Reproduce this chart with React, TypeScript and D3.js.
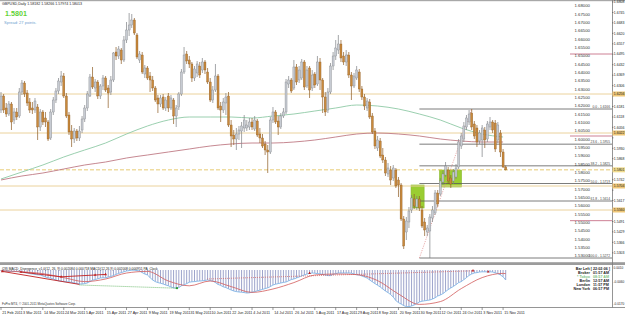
import React from "react";
import * as d3 from "d3";

const tickLabels = ["21 Feb 2011","3 Mar 2011","14 Mar 2011","24 Mar 2011","5 Apr 2011","15 Apr 2011","27 Apr 2011","9 May 2011","19 May 2011","31 May 2011","10 Jun 2011","22 Jun 2011","4 Jul 2011","14 Jul 2011","26 Jul 2011","5 Aug 2011","17 Aug 2011","29 Aug 2011","8 Sep 2011","20 Sep 2011","30 Sep 2011","12 Oct 2011","24 Oct 2011","3 Nov 2011","15 Nov 2011"];

// [open, high, low, close]
const ohlc: [number, number, number, number][] = [
[1.6160,1.6268,1.6142,1.6244],[1.6244,1.6256,1.6142,1.6160],[1.6172,1.6202,1.6118,1.6136],[1.6136,1.6214,1.6124,1.6196],[1.6196,1.6208,1.6040,1.6088],
[1.6100,1.6172,1.6076,1.6148],[1.6148,1.6172,1.6100,1.6118],[1.6124,1.6292,1.6112,1.6268],[1.6268,1.6340,1.6250,1.6322],[1.6322,1.6334,1.6238,1.6256],
[1.6262,1.6280,1.6184,1.6202],[1.6208,1.6232,1.6142,1.6160],[1.6172,1.6208,1.6136,1.6160],[1.6160,1.6232,1.6142,1.6214],[1.6178,1.6196,1.5980,1.6058],
[1.6058,1.6166,1.6034,1.6148],[1.6148,1.6160,1.6070,1.6088],[1.6112,1.6148,1.6058,1.6088],[1.6088,1.6100,1.5974,1.5986],[1.5992,1.6166,1.5980,1.6148],
[1.6148,1.6238,1.6130,1.6220],[1.6220,1.6292,1.6202,1.6274],[1.6274,1.6352,1.6256,1.6334],[1.6328,1.6394,1.6304,1.6364],[1.6364,1.6382,1.6232,1.6244],
[1.6244,1.6262,1.6112,1.6124],[1.6130,1.6148,1.6010,1.6028],[1.6034,1.6070,1.5938,1.5986],[1.5986,1.6052,1.5962,1.6034],[1.6034,1.6046,1.5974,1.5992],
[1.5992,1.6064,1.5974,1.6034],[1.6040,1.6124,1.6022,1.6106],[1.6106,1.6190,1.6088,1.6172],[1.6172,1.6274,1.6154,1.6256],[1.6244,1.6376,1.6238,1.6358],
[1.6358,1.6418,1.6286,1.6298],[1.6292,1.6346,1.6268,1.6328],[1.6328,1.6340,1.6226,1.6244],[1.6244,1.6316,1.6226,1.6304],[1.6304,1.6370,1.6280,1.6352],
[1.6352,1.6364,1.6268,1.6280],[1.6292,1.6310,1.6172,1.6262],[1.6268,1.6364,1.6250,1.6340],[1.6340,1.6508,1.6328,1.6502],[1.6508,1.6538,1.6460,1.6484],
[1.6484,1.6544,1.6466,1.6526],[1.6520,1.6532,1.6436,1.6460],[1.6460,1.6604,1.6448,1.6580],[1.6580,1.6688,1.6562,1.6640],[1.6640,1.6742,1.6604,1.6670],
[1.6670,1.6736,1.6652,1.6700],[1.6700,1.6712,1.6610,1.6622],[1.6610,1.6622,1.6466,1.6478],[1.6460,1.6514,1.6442,1.6496],[1.6490,1.6508,1.6376,1.6388],
[1.6376,1.6430,1.6352,1.6412],[1.6412,1.6424,1.6340,1.6352],[1.6364,1.6388,1.6268,1.6340],[1.6340,1.6364,1.6274,1.6292],[1.6292,1.6304,1.6208,1.6220],
[1.6232,1.6250,1.6142,1.6196],[1.6196,1.6250,1.6178,1.6232],[1.6238,1.6256,1.6160,1.6172],[1.6172,1.6238,1.6154,1.6220],[1.6244,1.6262,1.6148,1.6172],
[1.6172,1.6250,1.6160,1.6232],[1.6220,1.6232,1.6076,1.6124],[1.6124,1.6190,1.6058,1.6172],[1.6178,1.6268,1.6160,1.6256],[1.6256,1.6406,1.6244,1.6388],
[1.6388,1.6538,1.6376,1.6490],[1.6496,1.6514,1.6436,1.6454],[1.6460,1.6484,1.6412,1.6436],[1.6436,1.6448,1.6328,1.6352],[1.6352,1.6424,1.6334,1.6406],
[1.6382,1.6454,1.6358,1.6436],[1.6424,1.6448,1.6352,1.6370],[1.6400,1.6472,1.6382,1.6448],[1.6448,1.6460,1.6376,1.6400],[1.6388,1.6412,1.6316,1.6328],
[1.6328,1.6352,1.6208,1.6220],[1.6220,1.6304,1.6202,1.6280],[1.6280,1.6436,1.6268,1.6364],[1.6364,1.6376,1.6160,1.6172],[1.6184,1.6208,1.6088,1.6160],
[1.6160,1.6232,1.6142,1.6208],[1.6202,1.6262,1.6130,1.6238],[1.6244,1.6268,1.6058,1.6070],[1.6070,1.6100,1.5938,1.6004],[1.6010,1.6040,1.5950,1.5986],
[1.5986,1.6052,1.5920,1.6016],[1.6016,1.6064,1.5980,1.6040],[1.6034,1.6088,1.5932,1.6064],[1.6052,1.6130,1.6028,1.6100],[1.6052,1.6100,1.6034,1.6070],
[1.6058,1.6112,1.6040,1.6088],[1.6088,1.6112,1.6040,1.6058],[1.6046,1.6124,1.6034,1.6100],[1.6094,1.6106,1.5998,1.6010],[1.6016,1.6052,1.5962,1.5992],
[1.5992,1.6016,1.5932,1.5944],[1.5956,1.5974,1.5890,1.5920],[1.5920,1.5950,1.5782,1.5908],[1.5908,1.6118,1.5896,1.6100],[1.6100,1.6178,1.6082,1.6148],
[1.6148,1.6160,1.6076,1.6088],[1.6094,1.6124,1.6010,1.6058],[1.6058,1.6142,1.6046,1.6124],[1.6124,1.6172,1.6112,1.6148],[1.6148,1.6346,1.6136,1.6328],
[1.6316,1.6364,1.6292,1.6340],[1.6340,1.6352,1.6262,1.6274],[1.6292,1.6460,1.6280,1.6418],[1.6418,1.6436,1.6310,1.6328],[1.6340,1.6424,1.6322,1.6400],
[1.6352,1.6466,1.6340,1.6448],[1.6448,1.6460,1.6280,1.6298],[1.6304,1.6424,1.6292,1.6400],[1.6412,1.6424,1.6232,1.6280],[1.6292,1.6400,1.6274,1.6370],
[1.6376,1.6388,1.6292,1.6310],[1.6316,1.6484,1.6304,1.6448],[1.6448,1.6472,1.6280,1.6340],[1.6340,1.6352,1.6142,1.6238],[1.6238,1.6268,1.6124,1.6148],
[1.6160,1.6292,1.6142,1.6268],[1.6268,1.6442,1.6256,1.6424],[1.6424,1.6508,1.6400,1.6484],[1.6484,1.6580,1.6460,1.6532],[1.6520,1.6610,1.6496,1.6556],
[1.6556,1.6580,1.6448,1.6472],[1.6484,1.6508,1.6430,1.6448],[1.6448,1.6520,1.6424,1.6490],[1.6490,1.6508,1.6352,1.6370],[1.6370,1.6388,1.6220,1.6304],
[1.6304,1.6382,1.6292,1.6364],[1.6352,1.6424,1.6340,1.6400],[1.6388,1.6406,1.6268,1.6286],[1.6286,1.6304,1.6220,1.6238],[1.6238,1.6256,1.6160,1.6184],
[1.6172,1.6232,1.6154,1.6214],[1.6208,1.6226,1.6106,1.6118],[1.6124,1.6142,1.6016,1.6028],[1.6034,1.6052,1.5926,1.5944],[1.5932,1.6004,1.5914,1.5980],
[1.5974,1.5992,1.5872,1.5884],[1.5890,1.5932,1.5842,1.5860],[1.5860,1.5878,1.5764,1.5782],[1.5776,1.5842,1.5758,1.5812],[1.5800,1.5824,1.5710,1.5740],
[1.5752,1.5830,1.5734,1.5812],[1.5800,1.5812,1.5692,1.5704],[1.5740,1.5758,1.5638,1.5710],[1.5710,1.5722,1.5494,1.5506],[1.5506,1.5524,1.5326,1.5344],
[1.5428,1.5518,1.5380,1.5494],[1.5488,1.5578,1.5452,1.5554],[1.5560,1.5650,1.5542,1.5632],[1.5626,1.5656,1.5566,1.5584],[1.5578,1.5644,1.5560,1.5626],
[1.5626,1.5644,1.5554,1.5572],[1.5560,1.5584,1.5452,1.5464],[1.5488,1.5512,1.5404,1.5440],[1.5428,1.5470,1.5404,1.5452],[1.5434,1.5536,1.5272,1.5518],
[1.5512,1.5584,1.5488,1.5560],[1.5542,1.5680,1.5530,1.5662],[1.5662,1.5680,1.5578,1.5596],[1.5656,1.5752,1.5644,1.5734],[1.5728,1.5794,1.5710,1.5776],
[1.5770,1.5848,1.5758,1.5824],[1.5800,1.5818,1.5716,1.5734],[1.5752,1.5770,1.5692,1.5716],[1.5734,1.5806,1.5716,1.5788],[1.5758,1.5836,1.5746,1.5812],
[1.5818,1.5986,1.5806,1.5968],[1.5944,1.6022,1.5926,1.6004],[1.5986,1.6088,1.5968,1.6064],[1.6058,1.6130,1.6040,1.6112],[1.6088,1.6160,1.6070,1.6136],
[1.6142,1.6166,1.6040,1.6058],[1.6076,1.6094,1.5986,1.6004],[1.6052,1.6070,1.5938,1.5968],[1.5974,1.6040,1.5956,1.6022],[1.5980,1.6070,1.5878,1.6052],
[1.6040,1.6058,1.5932,1.5980],[1.5986,1.6094,1.5968,1.6076],[1.6058,1.6118,1.6040,1.6088],[1.6088,1.6100,1.6022,1.6040],[1.6082,1.6100,1.5908,1.5926],
[1.5980,1.6088,1.5962,1.6070],[1.6022,1.6040,1.5878,1.5908],[1.5908,1.5926,1.5812,1.5818],[1.5818,1.5827,1.5797,1.5801]
];

// moving averages, read every 8 bars
const maBars = [0,8,16,24,32,40,48,56,64,72,80,88,96,104,112,120,128,136,144,152,160,168,176,184,192];
const maGreen = [1.5746,1.5788,1.5830,1.5878,1.5920,1.5962,1.6016,1.6064,1.6100,1.6118,1.6118,1.6118,1.6112,1.6124,1.6136,1.6154,1.6172,1.6190,1.6184,1.6166,1.6136,1.6100,1.6052,1.6016,1.5998];
const maRed = [1.5740,1.5764,1.5782,1.5806,1.5830,1.5848,1.5872,1.5890,1.5908,1.5926,1.5944,1.5956,1.5962,1.5962,1.5968,1.5980,1.5998,1.6016,1.6022,1.6016,1.6004,1.5986,1.5974,1.5968,1.5968];

// horizontal levels
const supportLines = [1.6256, 1.6022, 1.5704, 1.5560];
const bidPrice = 1.5801;
const shortRedLines = [1.6496, 1.6004, 1.5496];
const fibLevels = ["0.0", "23.6", "38.2", "50.0", "61.8", "100.0"];
const fibPrices = [1.6166, 1.5955, 1.5825, 1.5719, 1.5614, 1.5272];
const fibAnchorBars = [160, 180];
const boxBars = [[156.8, 161.8], [167.7, 176.1]];
const boxPrices = [[1.5710, 1.5572], [1.5800, 1.5698]];

const innerLabels = ["1.68000","1.67500","1.67000","1.66500","1.66000","1.65500","1.65000","1.64500","1.64000","1.63500","1.63000","1.62500","1.62000","1.61500","1.61000","1.60500","1.60000","1.59500","1.59000","1.58500","1.58000","1.57500","1.57000","1.56500","1.56000","1.55500","1.55000","1.54500","1.54000","1.53500","1.53000"];
const axisLabels = ["1.6808","1.6745","1.6683","1.6620","1.6557","1.6495","1.6432","1.6369","1.6306","1.6244","1.6181","1.6118","1.6056","1.5993","1.5930","1.5868","1.5805","1.5742","1.5679","1.5617","1.5554","1.5491","1.5429","1.5366","1.5303"];

// MACD histogram (x1e-4), one per bar
const macdHist = [
-5,-5,-6,-7,-7,-8,-8,-9,-10,-13,
-15,-18,-20,-22,-24,-25,-30,-35,-39,-41,
-45,-50,-54,-56,-58,-59,-60,-62,-65,-68,
-70,-70,-68,-65,-58,-51,-48,-44,-40,-39,
-39,-35,-32,-28,-22,-17,-13,-9,-5,-3,
-1,-1,-3,-5,-13,-20,-25,-38,-50,-58,
-63,-66,-70,-75,-79,-85,-89,-91,-88,-79,
-74,-68,-61,-59,-58,-56,-55,-54,-52,-50,
-53,-55,-63,-72,-77,-84,-88,-94,-100,-105,
-108,-110,-111,-113,-115,-114,-111,-108,-104,-101,
-97,-93,-89,-83,-75,-71,-68,-65,-62,-60,
-54,-48,-45,-40,-35,-29,-25,-20,-17,-15,
-16,-18,-19,-22,-25,-28,-28,-22,-18,-15,
-15,-15,-15,-15,-16,-20,-24,-25,-30,-35,
-40,-50,-59,-68,-76,-85,-95,-105,-113,-123,
-135,-153,-163,-170,-178,-183,-183,-180,-175,-168,
-160,-156,-154,-152,-150,-145,-139,-130,-125,-118,
-108,-98,-90,-82,-73,-63,-58,-48,-38,-27,
-20,-15,-13,-10,-9,-9,-9,-9,-10,-14,
-18,-25,-34,-50];
const signalBars = [0,8,16,24,32,40,48,56,64,72,80,88,96,104,112,120,128,136,144,152,160,168,176,184,192,193];
const signalVals = [-4,-9,-18,-38,-58,-45,-15,-7,-55,-79,-55,-83,-112,-95,-63,-25,-20,-23,-53,-120,-172,-158,-93,-38,-17,-18];
// divergence marks: [bar, value]
const divSolid = [[[0.5,-7],[30,-72]],[[7.6,-10],[23,-34]],[[23,-34],[36,-25],[40,-22]]];
const divMarks = [[0.5,-7],[7.6,-10],[23,-34],[36,-25],[40,-22]];
const divGreen = [[30,-75],[67.3,-91]];
const divRedDotted = [[78.8,-45],[180.5,-4]];
const divRedMarks = [[118,-16],[180.5,-3],[186.3,-9]];
const indLabels = ["0.0010", "-0.0060", "-0.0170"];
const indLabelVals = [10, -60, -170];

const clock = [["Broker", "01:57 AM"], ["* Tokyo", "08:57 AM"], ["Berlin", "12:57 AM"], ["London", "11:57 PM"], ["New York", "06:57 PM"]];

export default function App() {
  const x = d3.scaleLinear().domain([0, 193]).range([1, 505.7]);
  const y = d3.scaleLinear().domain([1.5248, 1.682]).range([262, 0]);
  const yi = d3.scaleLinear().domain([-185, 20]).range([307, 266]);
  const maLine = d3.line<number>().x((_, i) => x(maBars[i])).y((d) => y(d)).curve(d3.curveMonotoneX);
  const sigLine = d3.line<number>().x((_, i) => x(signalBars[i])).y((d) => yi(d)).curve(d3.curveMonotoneX);
  const histLine = d3.line<number>().x((_, i) => x(i)).y((d) => yi(d));
  const ptLine = d3.line<number[]>().x((d) => x(d[0])).y((d) => yi(d[1]));
  const font = "'Liberation Sans', Arial, sans-serif";
  const plotR = 612;
  const boxed = supportLines.concat([bidPrice]);

  return (
    <svg width={625} height={315} style={{ position: "fixed", left: 0, top: 0, background: "#fff" }} fontFamily={font}>
      <defs>
        <clipPath id="mainClip"><rect x={0} y={1.5} width={plotR} height={260.5} /></clipPath>
        <clipPath id="indClip"><rect x={0} y={265} width={plotR} height={42} /></clipPath>
      </defs>
      <rect x={0} y={0} width={625} height={315} fill="#fff" />
      <g clipPath="url(#mainClip)">
        {boxBars.map((b, k) => (
          <rect key={"box" + k} x={x(b[0])} y={y(boxPrices[k][0])} width={x(b[1]) - x(b[0])} height={y(boxPrices[k][1]) - y(boxPrices[k][0])} fill="#9acd32" stroke="#86b82a" strokeWidth={0.6} />
        ))}
        {supportLines.map((p, k) => (
          <line key={"s" + k} x1={0} x2={plotR} y1={y(p)} y2={y(p)} stroke="#ebd29c" strokeWidth={1} />
        ))}
        <line x1={0} x2={plotR} y1={y(bidPrice)} y2={y(bidPrice)} stroke="#e3c463" strokeWidth={0.9} strokeDasharray="4,2" />
        {fibPrices.map((p, k) => (
          <line key={"f" + k} x1={x(fibAnchorBars[0])} x2={plotR} y1={y(p)} y2={y(p)} stroke="#5a5a5a" strokeWidth={0.8} />
        ))}
        <line x1={x(fibAnchorBars[0])} y1={y(fibPrices[5])} x2={x(fibAnchorBars[1])} y2={y(fibPrices[0])} stroke="#e08a8a" strokeWidth={0.7} strokeDasharray="1.2,1.2" />
        {shortRedLines.map((p, k) => (
          <line key={"r" + k} x1={570} x2={plotR} y1={y(p)} y2={y(p)} stroke="#c0607a" strokeWidth={0.8} />
        ))}
        <path d={maLine(maGreen) || ""} fill="none" stroke="#8fcaa6" strokeWidth={0.9} />
        <path d={maLine(maRed) || ""} fill="none" stroke="#c07a84" strokeWidth={0.9} />
        {ohlc.map(([o, h, l, c], i) => {
          const cx = x(i);
          const up = c >= o;
          const top = y(Math.max(o, c));
          const bot = y(Math.min(o, c));
          const edge = up ? "#7d7f84" : "#8c5a22";
          return (
            <g key={i}>
              <line x1={cx} x2={cx} y1={y(h)} y2={y(l)} stroke={edge} strokeWidth={0.7} />
              <rect x={cx - 1} y={top} width={2} height={Math.max(0.7, bot - top)} fill={up ? "#c7cbd2" : "#c8893c"} stroke={edge} strokeWidth={0.35} />
            </g>
          );
        })}
        {innerLabels.map((t, k) => (
          <text key={"il" + k} x={590} y={y(parseFloat(t)) + 2.7} fontSize={4.3} textAnchor="end" dominantBaseline="middle" fill="#333">{t}</text>
        ))}
        {fibPrices.map((p, k) => (
          <text key={"ft" + k} x={610} y={y(p) - 0.8} fontSize={3.3} textAnchor="end" fill="#444">{fibLevels[k] + " - " + p.toFixed(4)}</text>
        ))}
        <text x={2} y={5} fontSize={3.6} fill="#222">GBPUSD,Daily  1.58182 1.58266 1.57974 1.58013</text>
        <text x={5} y={16} fontSize={7.2} fontWeight="bold" fill="#5fd236">1.5801</text>
        <text x={4} y={24} fontSize={4} fill="#6f9fd0">Spread: 27 points.</text>
      </g>

      {/* window separators and frames */}
      <rect x={0} y={0} width={625} height={1.2} fill="#a8a8a8" />
      <rect x={0} y={262.2} width={625} height={2.8} fill="#9c9c9c" />
      <line x1={plotR + 0.5} x2={plotR + 0.5} y1={0} y2={307.5} stroke="#7a7a7a" strokeWidth={0.8} />
      <line x1={0} x2={625} y1={307.5} y2={307.5} stroke="#7a7a7a" strokeWidth={0.8} />

      {/* right price axis */}
      {axisLabels.map((t, k) => {
        const yy = y(parseFloat(t));
        const hidden = boxed.some((p) => Math.abs(y(p) - yy) < 5.5);
        return (
          <g key={"al" + k}>
            <line x1={plotR} x2={plotR + 1.5} y1={yy} y2={yy} stroke="#555" strokeWidth={0.6} />
            {!hidden && <text x={plotR + 1.8} y={yy + 1.3} fontSize={3.5} fill="#222">{t}</text>}
          </g>
        );
      })}
      {boxed.map((p, k) => (
        <g key={"pl" + k}>
          <rect x={plotR + 0.5} y={y(p) - 2.5} width={12.5} height={5} fill={k === 4 ? "#f1dc8e" : "#efc777"} />
          <text x={plotR + 1.8} y={y(p) + 1.3} fontSize={3.5} fill="#222">{p.toFixed(4)}</text>
        </g>
      ))}

      {/* indicator window */}
      <g clipPath="url(#indClip)">
        {macdHist.map((v, i) => (
          <line key={"h" + i} x1={x(i)} x2={x(i)} y1={yi(0)} y2={yi(v)} stroke="#5b67a8" strokeWidth={0.6} />
        ))}
        <path d={histLine(macdHist) || ""} fill="none" stroke="#7fb4e6" strokeWidth={0.9} />
        <path d={sigLine(signalVals) || ""} fill="none" stroke="#d25a5a" strokeWidth={0.8} />
        {divSolid.map((seg, k) => (
          <path key={"ds" + k} d={ptLine(seg) || ""} fill="none" stroke="#c22020" strokeWidth={0.9} />
        ))}
        <path d={ptLine(divGreen) || ""} fill="none" stroke="#3aa03a" strokeWidth={0.7} strokeDasharray="1,1" />
        <path d={ptLine(divRedDotted) || ""} fill="none" stroke="#d26060" strokeWidth={0.7} strokeDasharray="1,1" />
        {divMarks.concat(divRedMarks).map((d, k) => (
          <path key={"dm" + k} d={`M${x(d[0])},${yi(d[1]) - 1.6}L${x(d[0]) + 1.4},${yi(d[1]) + 0.8}L${x(d[0]) - 1.4},${yi(d[1]) + 0.8}Z`} fill="#c22020" />
        ))}
        <circle cx={x(divGreen[1][0])} cy={yi(divGreen[1][1])} r={1.1} fill="#2e9a2e" />
        <text x={2} y={269.8} fontSize={3.3} fill="#222">(28) MACD_Divergence_v1.0(12, 26, 9) 0.002084 0.000718  MACD(12,26,9) 0.002008 0.000951  PA_Clock</text>
        <text x={2} y={304.5} fontSize={3.1} fill="#333">FxPro MT4, © 2001-2011 MetaQuotes Software Corp.</text>
      </g>
      {indLabels.map((t, k) => (
        <text key={"ind" + k} x={plotR + 1.5} y={yi(indLabelVals[k]) + 1.3} fontSize={3.2} fill="#222">{t}</text>
      ))}

      {/* clock panel */}
      <text x={610} y={269.5} fontSize={3.7} textAnchor="end" fill="#222" fontWeight="bold">Bar Left [ 22:02:06 ]</text>
      {clock.map((r, k) => (
        <g key={"ck" + k}>
          <text x={590} y={274 + k * 4.1} fontSize={3.7} textAnchor="end" fontWeight="bold" fill={k === 1 ? "#7fc37f" : "#222"}>{r[0]}</text>
          <text x={593} y={274 + k * 4.1} fontSize={3.7} fontWeight="bold" fill={k === 1 ? "#7fc37f" : "#222"}>{r[1]}</text>
        </g>
      ))}

      {/* date axis */}
      {tickLabels.map((t, k) => (
        <g key={"t" + k}>
          <line x1={x(k * 8)} x2={x(k * 8)} y1={307.5} y2={310} stroke="#555" strokeWidth={0.6} />
          <text x={x(k * 8) + 1.2} y={313.5} fontSize={3.7} fill="#222">{t}</text>
        </g>
      ))}
    </svg>
  );
}
